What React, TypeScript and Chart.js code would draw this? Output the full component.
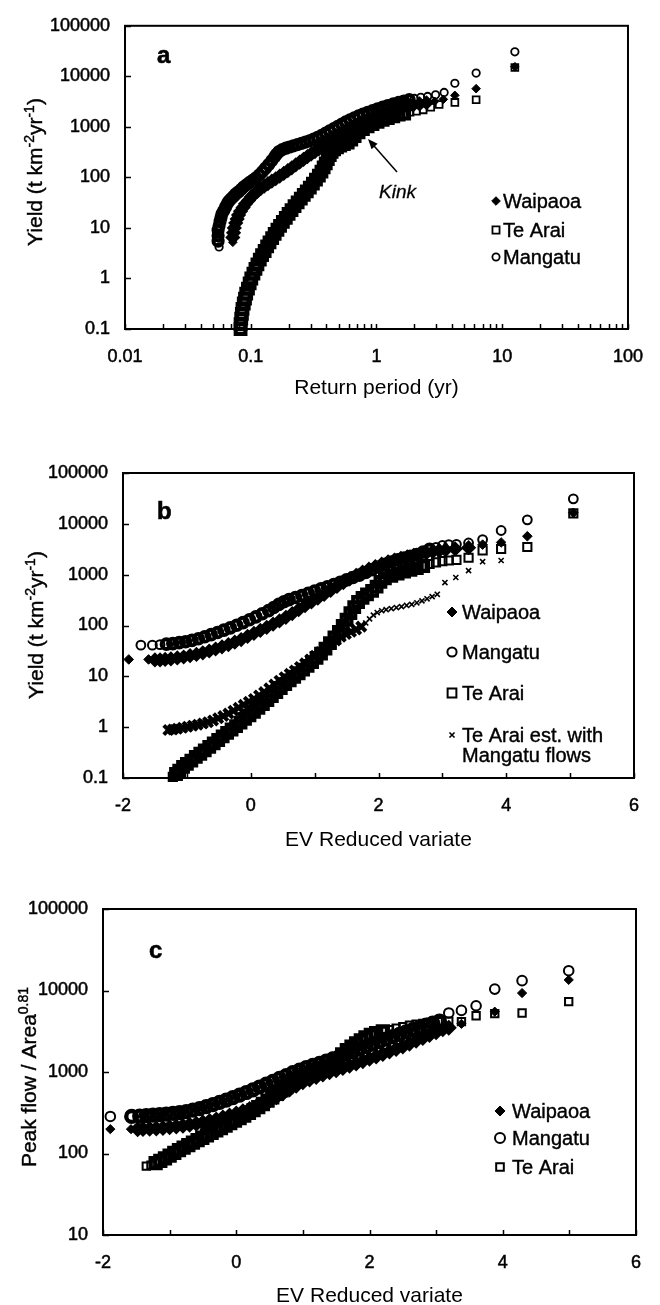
import React, { useEffect, useRef } from "react";
import { Chart, registerables } from "chart.js";

Chart.register(...registerables);

const FONT = "'Liberation Sans', Arial, Helvetica, sans-serif";

type Pt = [number, number];

// ---------------- axis ticks / labels ----------------
const aXTickValues = [
  0.01, 0.02, 0.03, 0.04, 0.05, 0.06, 0.07, 0.08, 0.09,
  0.1, 0.2, 0.3, 0.4, 0.5, 0.6, 0.7, 0.8, 0.9,
  1, 2, 3, 4, 5, 6, 7, 8, 9,
  10, 20, 30, 40, 50, 60, 70, 80, 90, 100,
];
const aXLabelValues = [0.01, 0.1, 1, 10, 100];
const aXLabels = ["0.01", "0.1", "1", "10", "100"];

const abYTickValues = [0.1, 1, 10, 100, 1000, 10000, 100000];
const abYLabels = ["0.1", "1", "10", "100", "1000", "10000", "100000"];

const bcXTickValues = [-2, -1, 0, 1, 2, 3, 4, 5, 6];
const bcXLabelValues = [-2, 0, 2, 4, 6];
const bcXLabels = ["-2", "0", "2", "4", "6"];

const cYTickValues = [10, 100, 1000, 10000, 100000];
const cYLabels = ["10", "100", "1000", "10000", "100000"];

// ---------------- panel a: return period (yr) vs yield ----------------
const aMangatu: Pt[] = [
  [0.056, 4.2], [0.055, 5.5], [0.055, 7], [0.055, 9], [0.056, 11], [0.057, 13.5], [0.058, 16], [0.059, 19],
  [0.061, 22], [0.063, 26], [0.065, 30], [0.067, 34], [0.07, 38], [0.073, 42], [0.076, 47], [0.08, 52],
  [0.084, 58], [0.088, 65], [0.093, 72], [0.098, 80], [0.104, 88], [0.11, 98], [0.117, 112], [0.124, 130],
  [0.131, 152], [0.139, 180], [0.147, 215], [0.155, 255], [0.16, 285], [0.168, 325], [0.178, 355], [0.19, 378],
  [0.203, 400], [0.218, 420], [0.235, 445], [0.253, 470], [0.272, 500], [0.293, 530], [0.316, 570], [0.34, 620],
  [0.366, 680], [0.394, 750], [0.424, 830], [0.457, 920], [0.492, 1020], [0.53, 1130], [0.57, 1250], [0.615, 1380],
  [0.665, 1510], [0.72, 1650], [0.78, 1790], [0.85, 1940], [0.93, 2100], [1.02, 2280], [1.12, 2460], [1.23, 2650],
  [1.36, 2850], [1.5, 3050], [1.65, 3250], [1.82, 3450], [2.0, 3650], [2.25, 3850], [2.55, 4000], [2.95, 4300],
  [3.45, 4800], [4.2, 7300], [6.2, 11600], [12.6, 30500],
];
const aWaipaoa: Pt[] = [
  [0.072, 5.2], [0.072, 6.5], [0.073, 8], [0.074, 10], [0.076, 12.5], [0.078, 15], [0.08, 18], [0.083, 21.5],
  [0.087, 25.5], [0.091, 30], [0.096, 35], [0.101, 41], [0.107, 47], [0.113, 53], [0.12, 60], [0.128, 67],
  [0.137, 75], [0.147, 84], [0.158, 94], [0.17, 106], [0.183, 120], [0.197, 136], [0.212, 155], [0.228, 177],
  [0.245, 200], [0.263, 228], [0.282, 258], [0.302, 290], [0.324, 325], [0.348, 365], [0.374, 405], [0.402, 450],
  [0.432, 500], [0.465, 550], [0.5, 605], [0.54, 665], [0.58, 730], [0.625, 800], [0.675, 880], [0.73, 970],
  [0.79, 1070], [0.855, 1190], [0.925, 1330], [1.0, 1480], [1.09, 1650], [1.19, 1830], [1.3, 2000], [1.43, 2180],
  [1.58, 2360], [1.75, 2540], [1.95, 2700], [2.2, 2850], [2.5, 3000], [2.9, 3200], [3.4, 3500], [4.2, 4200],
  [6.2, 5700], [12.6, 15500],
];
const aTeArai: Pt[] = [
  [0.083, 0.1], [0.083, 0.125], [0.084, 0.16], [0.085, 0.2], [0.086, 0.25], [0.088, 0.32], [0.09, 0.4], [0.092, 0.5],
  [0.095, 0.63], [0.098, 0.8], [0.101, 1.0], [0.105, 1.25], [0.109, 1.55], [0.113, 1.9], [0.118, 2.35], [0.123, 2.9],
  [0.129, 3.5], [0.135, 4.3], [0.141, 5.2], [0.148, 6.3], [0.155, 7.6], [0.163, 9.2], [0.171, 11], [0.18, 13.2],
  [0.19, 15.8], [0.2, 19], [0.211, 22.5], [0.223, 27], [0.236, 32], [0.25, 38], [0.264, 45], [0.279, 53],
  [0.295, 63], [0.312, 75], [0.33, 90], [0.348, 108], [0.365, 130], [0.38, 158], [0.395, 190], [0.41, 230],
  [0.425, 275], [0.44, 320], [0.46, 360], [0.485, 395], [0.515, 425], [0.55, 455], [0.59, 490], [0.63, 560],
  [0.67, 660], [0.72, 780], [0.78, 900], [0.85, 1020], [0.93, 1140], [1.02, 1260], [1.12, 1380], [1.23, 1500],
  [1.36, 1620], [1.5, 1740], [1.66, 1840], [1.85, 1940], [2.08, 2030], [2.35, 2170], [2.7, 2450], [3.15, 2780],
  [4.2, 3050], [6.2, 3450], [12.6, 15000],
];

// ---------------- panel b: EV reduced variate vs yield ----------------
const bWaipaoa: Pt[] = [
  [-1.91, 21.5], [-1.6, 21.5], [-1.5, 21], [-1.42, 21], [-1.34, 21.5], [-1.25, 22], [-1.15, 23], [-1.05, 24],
  [-0.95, 25.5], [-0.85, 27], [-0.75, 29], [-0.65, 31.5], [-0.55, 34.5], [-0.45, 38], [-0.35, 42], [-0.25, 47],
  [-0.15, 53], [-0.05, 61], [0.05, 70], [0.15, 80], [0.25, 92], [0.35, 106], [0.45, 123], [0.55, 145],
  [0.65, 172], [0.75, 205], [0.85, 245], [0.95, 290], [1.05, 345], [1.15, 410], [1.25, 490], [1.35, 585],
  [1.45, 700], [1.55, 830], [1.65, 970], [1.75, 1120], [1.85, 1280], [1.95, 1440], [2.05, 1610], [2.15, 1780],
  [2.25, 1940], [2.35, 2090], [2.45, 2240], [2.55, 2390], [2.65, 2540], [2.75, 2690], [2.85, 2840], [2.95, 2980],
  [3.05, 3080], [3.2, 3200], [3.41, 3400], [3.63, 3900], [3.92, 4300], [4.33, 5700], [5.05, 16500],
];
const bMangatu: Pt[] = [
  [-1.72, 41], [-1.54, 41], [-1.42, 42], [-1.32, 43], [-1.22, 44], [-1.12, 46], [-1.02, 48], [-0.92, 51],
  [-0.82, 55], [-0.72, 60], [-0.62, 66], [-0.52, 73], [-0.42, 81], [-0.32, 90], [-0.22, 101], [-0.12, 114],
  [-0.02, 130], [0.08, 148], [0.18, 170], [0.28, 196], [0.36, 226], [0.44, 260], [0.52, 293], [0.6, 323],
  [0.7, 355], [0.8, 390], [0.9, 430], [1.0, 475], [1.1, 525], [1.2, 580], [1.3, 640], [1.4, 710],
  [1.5, 790], [1.6, 880], [1.7, 980], [1.8, 1100], [1.9, 1250], [2.0, 1420], [2.1, 1600], [2.2, 1780],
  [2.3, 1950], [2.4, 2120], [2.5, 2300], [2.6, 2500], [2.7, 2800], [2.8, 3150], [2.9, 3450], [3.0, 3750],
  [3.1, 3900], [3.22, 3950], [3.41, 4200], [3.63, 4900], [3.92, 7400], [4.33, 12000], [5.05, 31000],
];
const bTeArai: Pt[] = [
  [-1.22, 0.105], [-1.17, 0.12], [-1.12, 0.14], [-1.06, 0.165], [-1.0, 0.19], [-0.93, 0.22], [-0.86, 0.26], [-0.79, 0.3],
  [-0.72, 0.35], [-0.65, 0.41], [-0.58, 0.48], [-0.51, 0.56], [-0.44, 0.66], [-0.37, 0.77], [-0.3, 0.9], [-0.23, 1.05],
  [-0.16, 1.23], [-0.09, 1.45], [-0.02, 1.7], [0.05, 2.0], [0.12, 2.4], [0.19, 2.85], [0.26, 3.4], [0.33, 4.1],
  [0.4, 4.9], [0.47, 5.9], [0.54, 7.0], [0.61, 8.3], [0.68, 9.8], [0.75, 11.5], [0.82, 13.5], [0.89, 16],
  [0.96, 19], [1.03, 23], [1.1, 28], [1.17, 35], [1.24, 45], [1.31, 58], [1.38, 75], [1.44, 98],
  [1.5, 130], [1.56, 175], [1.62, 230], [1.68, 290], [1.75, 350], [1.82, 410], [1.9, 480], [1.97, 580],
  [2.03, 720], [2.1, 850], [2.2, 950], [2.3, 1050], [2.4, 1150], [2.5, 1250], [2.6, 1350], [2.7, 1480],
  [2.8, 1620], [2.9, 1750], [3.0, 1850], [3.1, 1900], [3.22, 1950], [3.41, 2150], [3.63, 3000], [3.92, 3200],
  [4.33, 3500], [5.05, 16000],
];
const bTeAraiEst: Pt[] = [
  [-1.29, 0.88], [-1.22, 0.9], [-1.15, 0.93], [-1.07, 0.97], [-0.99, 1.02], [-0.91, 1.07], [-0.83, 1.12], [-0.75, 1.18],
  [-0.67, 1.25], [-0.59, 1.35], [-0.51, 1.5], [-0.43, 1.65], [-0.35, 1.85], [-0.27, 2.1], [-0.19, 2.4], [-0.11, 2.75],
  [-0.03, 3.15], [0.05, 3.6], [0.13, 4.2], [0.21, 4.9], [0.29, 5.8], [0.37, 6.9], [0.45, 8.2], [0.53, 9.6],
  [0.61, 11.2], [0.69, 13], [0.77, 15.3], [0.85, 18], [0.93, 21.5], [1.01, 25.5], [1.09, 30], [1.17, 36],
  [1.25, 43], [1.33, 51], [1.41, 60], [1.49, 68], [1.57, 75], [1.65, 83], [1.73, 95], [1.8, 112],
  [1.86, 135], [1.92, 160], [1.98, 180], [2.05, 195], [2.12, 205], [2.2, 215], [2.28, 225], [2.36, 235],
  [2.44, 248], [2.52, 260], [2.6, 280], [2.68, 305], [2.76, 335], [2.84, 370], [2.92, 410], [3.04, 700],
  [3.21, 880], [3.41, 1200], [3.63, 1800], [3.92, 1900],
];

// ---------------- panel c: EV reduced variate vs peak flow / area^0.81 ----------------
const cWaipaoa: Pt[] = [
  [-1.89, 199], [-1.58, 199], [-1.48, 199], [-1.4, 200], [-1.3, 201], [-1.2, 203], [-1.1, 206], [-1.0, 210],
  [-0.9, 214], [-0.8, 219], [-0.7, 225], [-0.6, 232], [-0.5, 240], [-0.4, 250], [-0.3, 262], [-0.2, 276],
  [-0.1, 292], [0.0, 310], [0.1, 330], [0.2, 352], [0.3, 378], [0.4, 408], [0.5, 445], [0.6, 490],
  [0.7, 545], [0.8, 610], [0.9, 680], [1.0, 750], [1.1, 810], [1.2, 870], [1.3, 930], [1.4, 990],
  [1.5, 1050], [1.6, 1120], [1.7, 1190], [1.8, 1270], [1.9, 1360], [2.0, 1450], [2.1, 1550], [2.2, 1660],
  [2.3, 1780], [2.4, 1910], [2.5, 2060], [2.6, 2230], [2.7, 2420], [2.8, 2620], [2.9, 2840], [3.0, 3080],
  [3.1, 3350], [3.19, 3500], [3.38, 3900], [3.88, 5500], [4.29, 9300], [4.99, 13500],
];
const cMangatu: Pt[] = [
  [-1.89, 285], [-1.57, 285], [-1.45, 288], [-1.35, 292], [-1.25, 296], [-1.15, 300], [-1.05, 305], [-0.95, 311],
  [-0.85, 318], [-0.75, 327], [-0.65, 340], [-0.55, 356], [-0.45, 375], [-0.35, 397], [-0.25, 423], [-0.15, 452],
  [-0.05, 485], [0.05, 520], [0.15, 560], [0.25, 605], [0.35, 655], [0.45, 710], [0.55, 770], [0.65, 835],
  [0.75, 905], [0.85, 980], [0.95, 1055], [1.05, 1130], [1.15, 1205], [1.25, 1280], [1.35, 1360], [1.45, 1450],
  [1.55, 1550], [1.65, 1660], [1.75, 1780], [1.85, 1910], [1.95, 2050], [2.05, 2200], [2.15, 2360], [2.25, 2530],
  [2.35, 2710], [2.45, 2900], [2.55, 3100], [2.65, 3310], [2.75, 3530], [2.85, 3750], [2.95, 3970], [3.05, 4200],
  [3.19, 5300], [3.38, 5700], [3.6, 6500], [3.88, 10400], [4.29, 13200], [4.99, 17500],
];
const cTeArai: Pt[] = [
  [-1.35, 70], [-1.28, 72], [-1.21, 76], [-1.14, 81], [-1.07, 87], [-1.0, 94], [-0.93, 102], [-0.86, 110],
  [-0.79, 118], [-0.72, 127], [-0.65, 136], [-0.58, 146], [-0.51, 156], [-0.44, 167], [-0.37, 179], [-0.3, 192],
  [-0.23, 205], [-0.16, 220], [-0.09, 236], [-0.02, 253], [0.05, 272], [0.12, 292], [0.19, 315], [0.26, 340],
  [0.33, 370], [0.4, 405], [0.47, 445], [0.54, 490], [0.61, 540], [0.68, 595], [0.75, 655], [0.82, 720],
  [0.89, 785], [0.96, 850], [1.03, 910], [1.1, 960], [1.17, 1000], [1.24, 1040], [1.31, 1080], [1.38, 1150],
  [1.45, 1280], [1.52, 1450], [1.59, 1650], [1.66, 1850], [1.73, 2050], [1.8, 2250], [1.87, 2450], [1.94, 2650],
  [2.02, 2850], [2.1, 3000], [2.2, 3150], [2.3, 3300], [2.4, 3450], [2.5, 3600], [2.6, 3750], [2.7, 3850],
  [2.8, 3950], [2.92, 4050], [3.03, 4150], [3.19, 4200], [3.38, 4150], [3.6, 4900], [3.88, 5200], [4.29, 5300],
  [4.99, 7300],
];

// ---------------- helpers ----------------
type Style = "rectRot" | "rect" | "circle" | "crossRot";

interface SeriesDef {
  label: string;
  data: Pt[];
  style: Style;
  radius: number; // isolated markers
  width: number;
  denseRadius: number; // markers inside the crowded band
  denseWidth: number;
  lead: number; // leading isolated markers
  tail: number; // trailing isolated markers
}

interface LegendDef {
  style: Style;
  text: string;
  text2?: string;
  y: number;
  r: number;
  lw: number;
}

interface PanelSpec {
  key: string;
  top: number;
  height: number;
  area: { left: number; right: number; top: number; bottom: number };
  xType: "logarithmic" | "linear";
  xMin: number;
  xMax: number;
  xTicks: number[];
  xLabelValues: number[];
  xLabels: string[];
  xTitle: string;
  xTitlePad: number;
  yMin: number;
  yMax: number;
  yTicks: number[];
  yLabels: string[];
  series: SeriesDef[];
  yTitle: { t: string; sup?: boolean }[];
  yTitleBaseX: number;
  yTitleCY: number;
  letter: { t: string; x: number; y: number };
  legendX: number;
  legendTextX: number;
  legend: LegendDef[];
  kink?: boolean;
}

function labelFor(values: number[], labels: string[], v: number): string {
  for (let i = 0; i < values.length; i++) {
    if (Math.abs(values[i] - v) <= Math.abs(values[i]) * 1e-6 + 1e-9) return labels[i];
  }
  return "";
}

function drawMarker(ctx: CanvasRenderingContext2D, style: Style, x: number, y: number, r: number, lw: number) {
  ctx.save();
  ctx.strokeStyle = "#000";
  ctx.fillStyle = "#000";
  ctx.lineWidth = lw;
  ctx.beginPath();
  if (style === "rectRot") {
    ctx.moveTo(x, y - r);
    ctx.lineTo(x + r, y);
    ctx.lineTo(x, y + r);
    ctx.lineTo(x - r, y);
    ctx.closePath();
    ctx.fill();
    ctx.stroke();
  } else if (style === "rect") {
    const s = r * Math.SQRT1_2;
    ctx.rect(x - s, y - s, 2 * s, 2 * s);
    ctx.stroke();
  } else if (style === "circle") {
    ctx.arc(x, y, r, 0, Math.PI * 2);
    ctx.stroke();
  } else {
    const d = r * Math.SQRT1_2;
    ctx.moveTo(x - d, y - d);
    ctx.lineTo(x + d, y + d);
    ctx.moveTo(x - d, y + d);
    ctx.lineTo(x + d, y - d);
    ctx.stroke();
  }
  ctx.restore();
}

function heavyText(ctx: CanvasRenderingContext2D, t: string, x: number, y: number, sw = 0.5) {
  ctx.fillText(t, x, y);
  ctx.lineWidth = sw;
  ctx.strokeStyle = "#000";
  ctx.strokeText(t, x, y);
}

function makeDecor(spec: PanelSpec) {
  return {
    id: "decor_" + spec.key,
    afterDraw(chart: any) {
      const ctx: CanvasRenderingContext2D = chart.ctx;
      const { left, right, top, bottom } = chart.chartArea;
      const xs = chart.scales.x;
      const ys = chart.scales.y;
      ctx.save();
      // frame
      ctx.strokeStyle = "#000";
      ctx.lineWidth = 2;
      ctx.strokeRect(left, top, right - left, bottom - top);
      // inner ticks
      ctx.lineWidth = 1.5;
      ctx.beginPath();
      for (const v of spec.xTicks) {
        const px = Math.round(xs.getPixelForValue(v)) + 0.5;
        ctx.moveTo(px, bottom);
        ctx.lineTo(px, bottom - 5);
      }
      for (const v of spec.yTicks) {
        const py = Math.round(ys.getPixelForValue(v)) + 0.5;
        ctx.moveTo(left, py);
        ctx.lineTo(left + 6, py);
      }
      ctx.stroke();

      // rotated y title with superscripts
      const size = 21;
      const mainFont = `${size}px ${FONT}`;
      const supFont = `${14}px ${FONT}`;
      let total = 0;
      const widths: number[] = [];
      for (const p of spec.yTitle) {
        ctx.font = p.sup ? supFont : mainFont;
        const w = ctx.measureText(p.t).width;
        widths.push(w);
        total += w;
      }
      ctx.save();
      ctx.translate(spec.yTitleBaseX, spec.yTitleCY);
      ctx.rotate(-Math.PI / 2);
      ctx.fillStyle = "#000";
      ctx.textBaseline = "alphabetic";
      ctx.textAlign = "left";
      let x = -total / 2;
      spec.yTitle.forEach((p, i) => {
        ctx.font = p.sup ? supFont : mainFont;
        heavyText(ctx, p.t, x, p.sup ? -8 : 0, 0.4);
        x += widths[i];
      });
      ctx.restore();

      // panel letter
      ctx.fillStyle = "#000";
      ctx.font = `bold 24px ${FONT}`;
      ctx.textAlign = "left";
      ctx.textBaseline = "alphabetic";
      heavyText(ctx, spec.letter.t, spec.letter.x, spec.letter.y, 0.6);

      // legend
      ctx.font = `20px ${FONT}`;
      ctx.textBaseline = "middle";
      for (const e of spec.legend) {
        drawMarker(ctx, e.style, spec.legendX, e.y, e.r, e.lw);
        ctx.fillStyle = "#000";
        heavyText(ctx, e.text, spec.legendTextX, e.y + 1, 0.4);
        if (e.text2) heavyText(ctx, e.text2, spec.legendTextX, e.y + 21, 0.4);
      }

      // kink annotation
      if (spec.kink) {
        ctx.font = `italic 19px ${FONT}`;
        ctx.textBaseline = "alphabetic";
        heavyText(ctx, "Kink", 379, 198, 0.3);
        const x1 = 397, y1 = 172, x2 = 368, y2 = 139;
        ctx.lineWidth = 1.5;
        ctx.beginPath();
        ctx.moveTo(x1, y1);
        ctx.lineTo(x2 + 3, y2 + 3.5);
        ctx.stroke();
        const ang = Math.atan2(y2 - y1, x2 - x1);
        const L = 10, W = 4;
        ctx.beginPath();
        ctx.moveTo(x2, y2);
        ctx.lineTo(x2 - L * Math.cos(ang) + W * Math.sin(ang), y2 - L * Math.sin(ang) - W * Math.cos(ang));
        ctx.lineTo(x2 - L * Math.cos(ang) - W * Math.sin(ang), y2 - L * Math.sin(ang) + W * Math.cos(ang));
        ctx.closePath();
        ctx.fill();
      }
      ctx.restore();
    },
  };
}

function perPoint(s: SeriesDef, isolatedVal: number, denseVal: number): number[] {
  const n = s.data.length;
  return s.data.map((_, i) => (i < s.lead || i >= n - s.tail ? isolatedVal : denseVal));
}

function buildConfig(spec: PanelSpec): any {
  const tickFont = { family: FONT, size: 18 };
  return {
    type: "scatter",
    data: {
      datasets: spec.series.map((s) => ({
        label: s.label,
        data: s.data.map(([x, y]) => ({ x, y })),
        showLine: false,
        clip: false,
        pointStyle: s.style,
        pointRadius: perPoint(s, s.radius, s.denseRadius),
        pointHoverRadius: perPoint(s, s.radius, s.denseRadius),
        pointBorderWidth: perPoint(s, s.width, s.denseWidth),
        pointBorderColor: "#000",
        pointBackgroundColor: s.style === "rectRot" ? "#000" : "rgba(0,0,0,0)",
        borderColor: "#000",
        backgroundColor: s.style === "rectRot" ? "#000" : "rgba(0,0,0,0)",
      })),
    },
    options: {
      responsive: false,
      maintainAspectRatio: false,
      animation: false,
      devicePixelRatio: 1,
      events: [],
      layout: {
        padding: { left: 0, top: spec.area.top, right: 660 - spec.area.right, bottom: 0 },
      },
      plugins: { legend: { display: false }, tooltip: { enabled: false }, title: { display: false } },
      scales: {
        x: {
          type: spec.xType,
          position: "bottom",
          min: spec.xMin,
          max: spec.xMax,
          grid: { display: false, drawTicks: false },
          border: { display: false },
          ticks: {
            autoSkip: false,
            maxRotation: 0,
            minRotation: 0,
            padding: 17,
            color: "#000",
            textStrokeColor: "#000",
            textStrokeWidth: 0.5,
            font: tickFont,
            callback: (v: number) => labelFor(spec.xLabelValues, spec.xLabels, Number(v)),
          },
          title: {
            display: true,
            text: spec.xTitle,
            color: "#000",
            font: { family: FONT, size: 21 },
            padding: { top: 0, bottom: spec.xTitlePad },
          },
          afterBuildTicks: (scale: any) => {
            scale.ticks = spec.xTicks.map((v) => ({ value: v }));
          },
          afterFit: (scale: any) => {
            scale.height = spec.height - spec.area.bottom;
          },
        },
        y: {
          type: "logarithmic",
          position: "left",
          min: spec.yMin,
          max: spec.yMax,
          grid: { display: false, drawTicks: false },
          border: { display: false },
          ticks: {
            autoSkip: false,
            padding: 15,
            color: "#000",
            textStrokeColor: "#000",
            textStrokeWidth: 0.5,
            font: tickFont,
            callback: (v: number) => labelFor(spec.yTicks, spec.yLabels, Number(v)),
          },
          afterBuildTicks: (scale: any) => {
            scale.ticks = spec.yTicks.map((v) => ({ value: v }));
          },
          afterFit: (scale: any) => {
            scale.width = spec.area.left;
          },
        },
      },
    },
    plugins: [makeDecor(spec)],
  };
}

// ---------------- panel specifications ----------------
const panelA: PanelSpec = {
  key: "a",
  top: 0,
  height: 430,
  area: { left: 125, right: 633, top: 19, bottom: 329 },
  xType: "logarithmic",
  xMin: 0.01,
  xMax: 100,
  xTicks: aXTickValues,
  xLabelValues: aXLabelValues,
  xLabels: aXLabels,
  xTitle: "Return period (yr)",
  xTitlePad: 29,
  yMin: 0.1,
  yMax: 100000,
  yTicks: abYTickValues,
  yLabels: abYLabels,
  series: [
    { label: "Waipaoa", data: aWaipaoa, style: "rectRot", radius: 4.3, width: 1, denseRadius: 6.2, denseWidth: 2, lead: 1, tail: 5 },
    { label: "Te Arai", data: aTeArai, style: "rect", radius: 4.8, width: 1.8, denseRadius: 6.8, denseWidth: 4.2, lead: 0, tail: 8 },
    { label: "Mangatu", data: aMangatu, style: "circle", radius: 3.7, width: 1.8, denseRadius: 4.6, denseWidth: 4, lead: 1, tail: 8 },
  ],
  yTitle: [{ t: "Yield (t km" }, { t: "-2", sup: true }, { t: "yr" }, { t: "-1", sup: true }, { t: ")" }],
  yTitleBaseX: 42,
  yTitleCY: 172,
  letter: { t: "a", x: 157, y: 63 },
  legendX: 496,
  legendTextX: 503,
  legend: [
    { style: "rectRot", text: "Waipaoa", y: 201, r: 4.3, lw: 1 },
    { style: "rect", text: "Te Arai", y: 230, r: 5, lw: 1.8 },
    { style: "circle", text: "Mangatu", y: 257, r: 3.6, lw: 1.8 },
  ],
  kink: true,
};

const panelB: PanelSpec = {
  key: "b",
  top: 430,
  height: 450,
  area: { left: 123, right: 634, top: 43, bottom: 348 },
  xType: "linear",
  xMin: -2,
  xMax: 6,
  xTicks: bcXTickValues,
  xLabelValues: bcXLabelValues,
  xLabels: bcXLabels,
  xTitle: "EV Reduced variate",
  xTitlePad: 27,
  yMin: 0.1,
  yMax: 100000,
  yTicks: abYTickValues,
  yLabels: abYLabels,
  series: [
    { label: "Waipaoa", data: bWaipaoa, style: "rectRot", radius: 4.8, width: 1, denseRadius: 6.2, denseWidth: 2, lead: 2, tail: 4 },
    { label: "Mangatu", data: bMangatu, style: "circle", radius: 4.4, width: 2, denseRadius: 4.8, denseWidth: 4, lead: 3, tail: 9 },
    { label: "Te Arai", data: bTeArai, style: "rect", radius: 5.8, width: 2, denseRadius: 6.8, denseWidth: 4.2, lead: 1, tail: 10 },
    { label: "Te Arai est. with Mangatu flows", data: bTeAraiEst, style: "crossRot", radius: 3.6, width: 1.6, denseRadius: 6.5, denseWidth: 4, lead: 0, tail: 21 },
  ],
  yTitle: [{ t: "Yield (t km" }, { t: "-2", sup: true }, { t: "yr" }, { t: "-1", sup: true }, { t: ")" }],
  yTitleBaseX: 43,
  yTitleCY: 195,
  letter: { t: "b", x: 157, y: 89 },
  legendX: 452,
  legendTextX: 462,
  legend: [
    { style: "rectRot", text: "Waipaoa", y: 182, r: 5, lw: 1 },
    { style: "circle", text: "Mangatu", y: 222, r: 4.6, lw: 2 },
    { style: "rect", text: "Te Arai", y: 263, r: 6.2, lw: 2 },
    { style: "crossRot", text: "Te Arai est. with", text2: "Mangatu flows", y: 305, r: 3.6, lw: 1.6 },
  ],
};

const panelC: PanelSpec = {
  key: "c",
  top: 880,
  height: 440,
  area: { left: 103, right: 636, top: 29, bottom: 355 },
  xType: "linear",
  xMin: -2,
  xMax: 6,
  xTicks: bcXTickValues,
  xLabelValues: bcXLabelValues,
  xLabels: bcXLabels,
  xTitle: "EV Reduced variate",
  xTitlePad: 11,
  yMin: 10,
  yMax: 100000,
  yTicks: cYTickValues,
  yLabels: cYLabels,
  series: [
    { label: "Waipaoa", data: cWaipaoa, style: "rectRot", radius: 4.6, width: 1, denseRadius: 6.6, denseWidth: 2, lead: 2, tail: 4 },
    { label: "Mangatu", data: cMangatu, style: "circle", radius: 4.8, width: 2, denseRadius: 5.4, denseWidth: 4.4, lead: 1, tail: 6 },
    { label: "Te Arai", data: cTeArai, style: "rect", radius: 5.2, width: 2, denseRadius: 7, denseWidth: 4.4, lead: 2, tail: 14 },
  ],
  yTitle: [{ t: "Peak flow / Area" }, { t: "0.81", sup: true }],
  yTitleBaseX: 36,
  yTitleCY: 197,
  letter: { t: "c", x: 149, y: 78 },
  legendX: 500,
  legendTextX: 512,
  legend: [
    { style: "rectRot", text: "Waipaoa", y: 231, r: 5, lw: 1 },
    { style: "circle", text: "Mangatu", y: 258, r: 5, lw: 2 },
    { style: "rect", text: "Te Arai", y: 287, r: 5.4, lw: 2 },
  ],
};

function Panel({ spec }: { spec: PanelSpec }) {
  const ref = useRef<HTMLCanvasElement | null>(null);
  useEffect(() => {
    if (!ref.current) return;
    const chart = new Chart(ref.current, buildConfig(spec));
    return () => chart.destroy();
  }, [spec]);
  return (
    <canvas
      ref={ref}
      width={660}
      height={spec.height}
      style={{ position: "absolute", left: 0, top: spec.top, width: 660, height: spec.height, display: "block" }}
    />
  );
}

export default function App() {
  return (
    <div
      style={{
        position: "absolute",
        left: 0,
        top: 0,
        width: 660,
        height: 1305,
        overflow: "hidden",
        background: "#fff",
      }}
    >
      <Panel spec={panelA} />
      <Panel spec={panelB} />
      <Panel spec={panelC} />
    </div>
  );
}
